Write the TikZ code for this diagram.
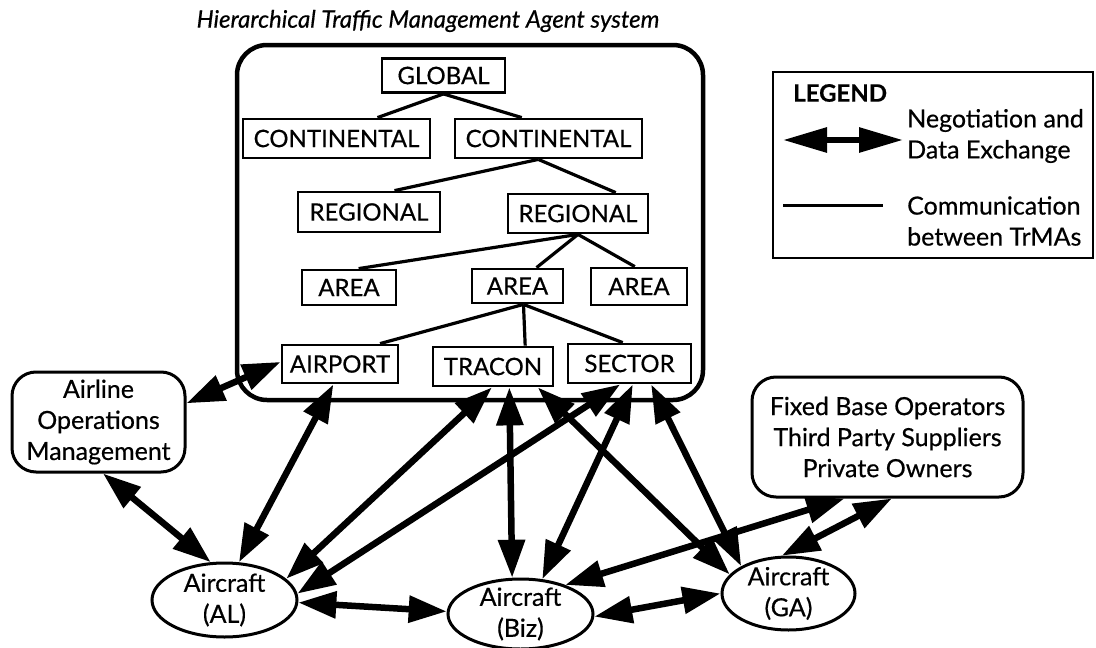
\documentclass[tikz,border=0pt]{standalone}
\usepackage{fontspec}
\setmainfont{Lato}[FakeBold=0.5]
\usetikzlibrary{shapes.geometric,arrows.meta}
\begin{document}
\begin{tikzpicture}[x=1pt,y=-1pt,
  lvl/.style={draw,line width=2.8pt,inner sep=0pt,font=\fontsize{24}{28}\selectfont},
  tree/.style={line width=3.2pt},
  rbox/.style={draw,rounded corners=24pt,line width=3pt,inner sep=0pt,align=center,font=\fontsize{25}{31}\selectfont},
  craft/.style={draw,ellipse,line width=3pt,inner sep=0pt},
  craftlbl/.style={align=center,inner sep=0pt,font=\fontsize{25}{31}\selectfont},
  txt/.style={inner sep=0pt,font=\fontsize{25}{31}\selectfont},
  nego/.style={line width=6.5pt,{Triangle[length=38pt,width=26pt]}-{Triangle[length=38pt,width=26pt]}},
  legarrow/.style={line width=6pt,{Triangle[length=44pt,width=24pt]}-{Triangle[length=44pt,width=24pt]}},
]
\useasboundingbox (0,0) rectangle (1096,648);

% title and the TrMA system frame
\node[txt,font=\itshape\fontsize{24}{28}\selectfont] (title) at (428,21) {Hierarchical Traffic Management Agent system};
\node[draw,rounded corners=30pt,line width=4.5pt,minimum width=466pt,minimum height=355pt,inner sep=0pt] (tmas) at (470,222.5) {};

% hierarchy
\node[lvl,minimum width=123pt,minimum height=34pt] (global) at (443.5,75.5) {GLOBAL};
\node[lvl,minimum width=187pt,minimum height=39pt] (contL) at (336.5,138.5) {CONTINENTAL};
\node[lvl,minimum width=187pt,minimum height=39pt] (contR) at (548.5,138.5) {CONTINENTAL};
\node[lvl,minimum width=142pt,minimum height=40pt] (regL) at (369,212) {REGIONAL};
\node[lvl,minimum width=140pt,minimum height=39pt] (regR) at (578,213.5) {REGIONAL};
\node[lvl,minimum width=94pt,minimum height=35pt] (areaL) at (349,287.5) {AREA};
\node[lvl,minimum width=91pt,minimum height=34pt] (areaM) at (517.5,286) {AREA};
\node[lvl,minimum width=96pt,minimum height=37pt] (areaR) at (639,286.5) {AREA};
\node[lvl,minimum width=116pt,minimum height=38pt] (airport) at (340,364) {AIRPORT};
\node[lvl,minimum width=120pt,minimum height=39pt] (tracon) at (493,366.5) {TRACON};
\node[lvl,minimum width=123pt,minimum height=39pt] (sector) at (629.5,363.5) {SECTOR};

\draw[tree] (global.south) -- (contL.27);
\draw[tree] (global.south) -- (contR.142);
\draw[tree] (contR.-116) -- (regL.40);
\draw[tree] (contR.-116) -- (regR.29);
\draw[tree] (regR.south) -- (areaL.63);
\draw[tree] (regR.south) -- (areaM.44);
\draw[tree] (regR.south) -- (areaR.102);
\draw[tree] (areaM.-72) -- (airport.27);
\draw[tree] (areaM.-72) -- (tracon.33);
\draw[tree] (areaM.-72) -- (sector.108);

% outside agents
\node[rbox,minimum width=173pt,minimum height=100pt] (airline) at (98.5,422) {Airline\\Operations\\Management};
\node[rbox,minimum width=271pt,minimum height=120pt] (fixed) at (887.5,437) {Fixed Base Operators\\Third Party Suppliers\\Private Owners};
\node[craft,minimum width=145pt,minimum height=74pt,label={[craftlbl]center:Aircraft\\(AL)}] (AL) at (224.5,600) {};
\node[craft,minimum width=145pt,minimum height=70pt,label={[craftlbl]center:Aircraft\\(Biz)}] (biz) at (520.5,614) {};
\node[craft,minimum width=133pt,minimum height=73pt,label={[craftlbl]center:Aircraft\\(GA)}] (GA) at (788.5,593.5) {};

% negotiation and data exchange
\draw[nego] (airport.178) -- (airline.12);
\draw[nego] (airline.-85) -- (AL.110);
\draw[nego] (airport.-108) -- (AL.69);
\draw[nego] (tracon.-93) -- (AL.19);
\draw[nego] (sector.-114) -- (AL.5);
\draw[nego] (AL.-2) -- (biz.178);
\draw[nego] (tracon.-52) -- (biz.103);
\draw[nego] (sector.-81) -- (biz.58);
\draw[nego] (tracon.-25) -- (GA.162);
\draw[nego] (sector.-44) -- (GA.150);
\draw[nego] (fixed.-125) -- (biz.33);
\draw[nego] (fixed.-86) -- (GA.100);
\draw[nego] (biz.-2) -- (GA.180);

% legend
\node[draw,line width=2.5pt,minimum width=320pt,minimum height=186pt,inner sep=0pt] (legend) at (933,165) {};
\node[txt,anchor=west,font=\bfseries\fontsize{24}{28}\selectfont] (legtitle) at (793,93) {LEGEND};
\node[txt,anchor=west,align=left] (legnego) at (907,136) {Negotiation and\\Data Exchange};
\node[txt,anchor=west,align=left] (legcomm) at (907,221) {Communication\\between TrMAs};
\coordinate (la) at (783,140);
\coordinate (lb) at (903,140);
\coordinate (lc) at (783,205);
\coordinate (ld) at (883,205);
\draw[legarrow] (la) -- (lb);
\draw[line width=3pt] (lc) -- (ld);
\end{tikzpicture}
\end{document}
